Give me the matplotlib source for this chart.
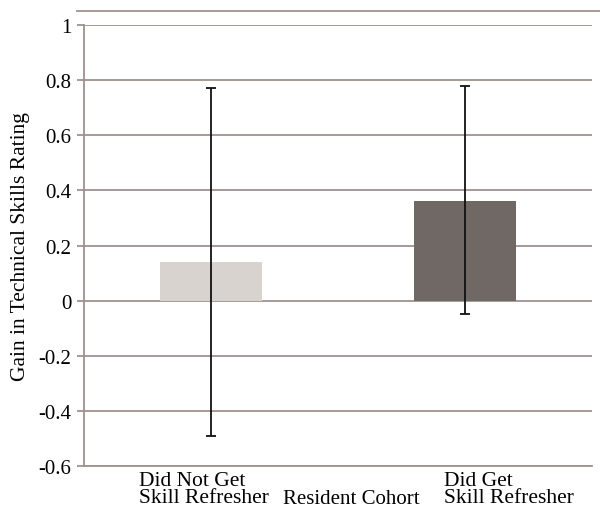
import matplotlib
matplotlib.use("Agg")
import matplotlib.pyplot as plt
from matplotlib.lines import Line2D
from matplotlib.transforms import blended_transform_factory

# data
categories = ["Did Not Get\nSkill Refresher", "Did Get\nSkill Refresher"]
gains = [0.14, 0.36]
err_low = [-0.49, -0.05]
err_high = [0.77, 0.78]
bar_colors = ["#D8D3CF", "#6F6864"]
yticks = [-0.6, -0.4, -0.2, 0, 0.2, 0.4, 0.6, 0.8, 1]
ytick_labels = ["-0.6", "-0.4", "-0.2", "0", "0.2", "0.4", "0.6", "0.8", "1"]

grid_color = "#9E928E"
serif = ["Liberation Serif", "DejaVu Serif"]
plt.rcParams["font.family"] = serif

fig = plt.figure(figsize=(6, 5.1), dpi=100)
ax = fig.add_axes([0.14, 0.0843, 0.8467, 0.8647])

x = list(range(len(categories)))
ax.set_axisbelow(True)
ax.yaxis.grid(True, color=grid_color, linewidth=1.3)
ax.bar(x, gains, width=0.4, color=bar_colors, zorder=2)

yerr = [[g - lo for g, lo in zip(gains, err_low)],
        [hi - g for g, hi in zip(gains, err_high)]]
ax.errorbar(x, gains, yerr=yerr, fmt="none", ecolor="#111111",
            elinewidth=1.3, capsize=3.5, capthick=1.3, zorder=3)

ax.set_xlim(-0.5, 1.5)
ax.set_ylim(-0.6, 1)
ax.set_yticks(yticks)
ax.set_yticklabels(ytick_labels, fontsize=15, family=serif)
ax.set_xticks([])
ax.tick_params(axis="y", length=5, width=1.3, color=grid_color, pad=4)

for side in ["top", "right"]:
    ax.spines[side].set_visible(False)
ax.spines["left"].set_color(grid_color)
ax.spines["left"].set_linewidth(1.3)
ax.spines["bottom"].set_color(grid_color)
ax.spines["bottom"].set_linewidth(1.3)

# category labels under the axis, left-aligned blocks
trans = blended_transform_factory(ax.transData, ax.transAxes)
label_offsets = [-0.285, 0.917]
for off, lab in zip(label_offsets, categories):
    ax.text(off, -0.012, lab, transform=trans, ha="left", va="top",
            fontsize=15.5, linespacing=0.85, family=serif)

ax.text(0.526, -0.052, "Resident Cohort", transform=ax.transAxes,
        ha="center", va="top", fontsize=15, family=serif)
ax.set_ylabel("Gain in Technical Skills Rating", fontsize=15.5,
              labelpad=6, family=serif)

# border line above the plot
fig.add_artist(Line2D([77 / 600, 1.0], [1 - 12 / 510, 1 - 12 / 510],
                      color=grid_color, linewidth=1.3))

fig.savefig("out.png", dpi=100)
